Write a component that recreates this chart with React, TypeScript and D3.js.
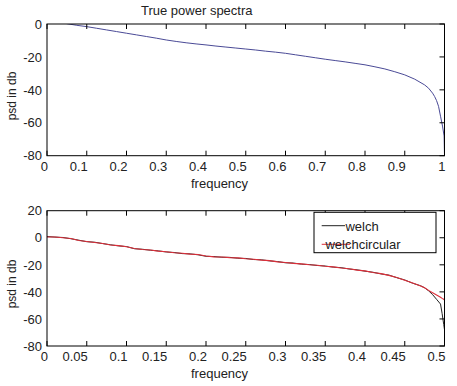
import React from 'react'
import * as d3 from 'd3'

// true spectrum (top panel), frequency 0..1
const trueFreq = [0, 0.025, 0.05, 0.075, 0.1, 0.125, 0.15, 0.175, 0.2, 0.225, 0.25, 0.275, 0.3, 0.325, 0.35, 0.375, 0.4, 0.425, 0.45, 0.475, 0.5, 0.525, 0.55, 0.575, 0.6, 0.625, 0.65, 0.675, 0.7, 0.725, 0.75, 0.775, 0.8, 0.825, 0.85, 0.875, 0.9, 0.925, 0.95, 0.96, 0.97, 0.975, 0.98, 0.985, 0.99, 0.995, 0.999, 1]
const truePsd = [3.5, 1.8, 0.2, -0.8, -1.6, -2.6, -3.6, -4.6, -5.6, -6.6, -7.6, -8.6, -9.7, -10.6, -11.4, -12.1, -12.7, -13.4, -14.0, -14.6, -15.2, -15.8, -16.5, -17.1, -17.8, -18.7, -19.6, -20.5, -21.4, -22.2, -23.0, -23.9, -24.8, -26.0, -27.3, -29.0, -30.9, -33.5, -37.0, -39.0, -42.0, -44.0, -46.5, -50.0, -56.0, -62.0, -68.0, -80]

// estimated spectra (bottom panel), frequency 0..0.5
const estFreq = [0, 0.01, 0.02, 0.03, 0.04, 0.05, 0.06, 0.07, 0.08, 0.09, 0.1, 0.11, 0.12, 0.13, 0.14, 0.15, 0.16, 0.17, 0.18, 0.19, 0.2, 0.21, 0.22, 0.23, 0.24, 0.25, 0.26, 0.27, 0.28, 0.29, 0.3, 0.31, 0.32, 0.33, 0.34, 0.35, 0.36, 0.37, 0.38, 0.39, 0.4, 0.41, 0.42, 0.43, 0.44, 0.45, 0.46, 0.47, 0.475, 0.48, 0.485, 0.49, 0.495, 0.497, 0.499, 0.5]
const welch = [0.9, 0.5, 0.2, -0.7, -1.8, -2.9, -3.3, -4.3, -5.2, -6.0, -6.5, -8.1, -8.5, -9.2, -9.7, -10.5, -10.9, -11.7, -11.9, -12.6, -13.7, -13.9, -14.4, -14.5, -15.1, -15.3, -16.1, -16.3, -17.1, -17.6, -18.5, -18.7, -19.5, -19.8, -20.5, -20.9, -21.7, -22.1, -23.1, -23.7, -24.7, -25.5, -26.7, -27.6, -29.5, -31.2, -33.6, -35.5, -37.0, -39.2, -42.0, -45.5, -49.0, -56.0, -64.0, -68.0]
const welchCircular = [0.6, 0.6, 0.0, -0.6, -2.0, -2.8, -3.5, -4.2, -5.4, -5.8, -6.7, -7.9, -8.7, -9.0, -9.9, -10.3, -11.1, -11.5, -12.1, -12.4, -13.5, -14.1, -14.2, -14.7, -14.9, -15.5, -15.9, -16.5, -16.9, -17.8, -18.3, -18.9, -19.3, -20.0, -20.3, -21.1, -21.5, -22.3, -22.9, -23.9, -24.5, -25.7, -26.5, -27.8, -29.3, -31.4, -33.4, -35.7, -37.0, -38.9, -40.6, -42.3, -44.0, -44.8, -45.5, -46.0]

const topXTicks = [0, 0.1, 0.2, 0.3, 0.4, 0.5, 0.6, 0.7, 0.8, 0.9, 1]
const topYTicks = [0, -20, -40, -60, -80]
const botXTicks = [0, 0.05, 0.1, 0.15, 0.2, 0.25, 0.3, 0.35, 0.4, 0.45, 0.5]
const botYTicks = [20, 0, -20, -40, -60, -80]

const legendLabels = ['welch', 'welchcircular']

const W = 457
const H = 386
const FONT = '"Liberation Sans", Arial, sans-serif'
const TICK = 5

interface PanelProps {
  x: d3.ScaleLinear<number, number>
  y: d3.ScaleLinear<number, number>
  xTicks: number[]
  yTicks: number[]
  labelY: number
  xLabelY: number
  clipId: string
  children?: React.ReactNode
}

const fmt = (v: number) => (v < 0 ? '-' + String(-v) : String(v))

const Panel: React.FC<PanelProps> = ({ x, y, xTicks, yTicks, labelY, xLabelY, clipId, children }) => {
  const [x0, x1] = x.range()
  const [y0, y1] = y.range() // y0 bottom, y1 top
  return (
    <g>
      <defs>
        <clipPath id={clipId}>
          <rect x={x0} y={y1} width={x1 - x0} height={y0 - y1} />
        </clipPath>
      </defs>
      <g clipPath={`url(#${clipId})`}>{children}</g>
      <rect x={x0} y={y1} width={x1 - x0} height={y0 - y1} fill="none" stroke="#000" strokeWidth={1} />
      {xTicks.map(t => (
        <g key={'x' + t}>
          <line x1={x(t)} x2={x(t)} y1={y0} y2={y0 - TICK} stroke="#000" />
          <line x1={x(t)} x2={x(t)} y1={y1} y2={y1 + TICK} stroke="#000" />
          <text x={x(t) + 1} y={y0 + 14.8} textAnchor="end" fontSize={13} fill="#222">{fmt(t)}</text>
        </g>
      ))}
      {yTicks.map(t => (
        <g key={'y' + t}>
          <line x1={x1} x2={x1 - TICK} y1={y(t)} y2={y(t)} stroke="#000" />
          <text x={42} y={y(t)} dy="0.36em" textAnchor="end" fontSize={13} fill="#222">{fmt(t)}</text>
        </g>
      ))}
      <text x={191} y={xLabelY} fontSize={13} fill="#222">frequency</text>
      <text transform={`translate(16,${labelY}) rotate(-90)`} textAnchor="middle" fontSize={12} fill="#222">psd in db</text>
    </g>
  )
}

export default function App() {
  const xTop = d3.scaleLinear().domain([0, 1]).range([47, 444.5])
  const yTop = d3.scaleLinear().domain([-80, 0]).range([155.7, 24])
  const xBot = d3.scaleLinear().domain([0, 0.5]).range([47, 444.5])
  const yBot = d3.scaleLinear().domain([-80, 20]).range([346, 210.7])

  const topLine = d3.line<number>()
    .x((_, i) => xTop(trueFreq[i]))
    .y(d => yTop(d))
  const welchLine = d3.line<number>()
    .x((_, i) => xBot(estFreq[i]))
    .y(d => yBot(d))

  return (
    <svg width={W} height={H} style={{ position: 'absolute', left: 0, top: 0, background: '#fff' }} fontFamily={FONT}>
      <rect width={W} height={H} fill="#fff" />
      <text x={141} y={15} fontSize={13} fill="#222">True power spectra</text>

      <Panel x={xTop} y={yTop} xTicks={topXTicks} yTicks={topYTicks} labelY={96} xLabelY={187.6} clipId="clipTop">
        <path d={topLine(truePsd) ?? ''} fill="none" stroke="#4a4a96" strokeWidth={1} />
      </Panel>

      <Panel x={xBot} y={yBot} xTicks={botXTicks} yTicks={botYTicks} labelY={284} xLabelY={377.5} clipId="clipBot">
        <path d={welchLine(welch) ?? ''} fill="none" stroke="#222" strokeWidth={1} />
        <path d={welchLine(welchCircular) ?? ''} fill="none" stroke="#dc2f3a" strokeWidth={1.1} />
      </Panel>

      {/* legend */}
      <g>
        <rect x={314} y={212.3} width={122} height={40.4} fill="#fff" stroke="#000" />
        <line x1={321.7} x2={345} y1={225.7} y2={225.7} stroke="#222" />
        <line x1={321.7} x2={350} y1={244.3} y2={244.3} stroke="#dc2f3a" />
        <text x={362} y={231} textAnchor="middle" fontSize={13} fill="#222">{legendLabels[0]}</text>
        <text x={363} y={248.5} textAnchor="middle" fontSize={13} fill="#222">{legendLabels[1]}</text>
      </g>
    </svg>
  )
}
